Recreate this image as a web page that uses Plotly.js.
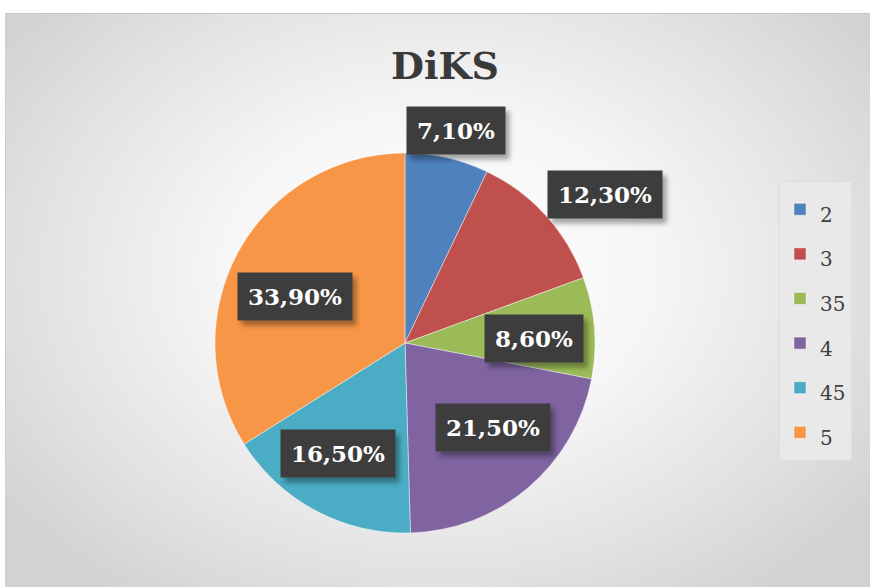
<!DOCTYPE html>
<html>
<head>
<meta charset="utf-8">
<script src="https://cdn.plot.ly/plotly-3.0.1.min.js"></script>
<style>
html,body{margin:0;padding:0;background:#fff;}
#wrap{position:relative;width:876px;height:587px;}
#bg{position:absolute;left:5px;top:13px;width:865px;height:574px;
 background:radial-gradient(ellipse 62% 70% at 50% 45%, #ffffff 0%, #f6f6f6 40%, #e2e2e2 75%, #d2d2d2 100%);
 border-top:1px solid #c8c8c8;border-left:1px solid #d0d0d0;box-sizing:border-box;}
#chart{position:absolute;left:0;top:0;width:876px;height:587px;}
</style>
</head>
<body>
<div id="wrap"><div id="bg"></div><div id="chart"></div></div>
<script>
// ---- data ----
var categories = ["2", "3", "35", "4", "45", "5"];
var values = [7.10, 12.30, 8.60, 21.50, 16.50, 33.90];
var valueLabels = ["7,10%", "12,30%", "8,60%", "21,50%", "16,50%", "33,90%"];
var colors = ["#4F81BD", "#C0504D", "#9BBB59", "#8064A2", "#4BACC6", "#F79646"];
var chartTitle = "DiKS";

// ---- layout geometry ----
var W = 876, H = 587;
var cx = 405, cy = 343, R = 190;
// label placement (radius factor, angle tweak in degrees) mimicking Excel "best fit"
var labelRadius = [1.15, 1.31, 0.68, 0.64, 0.68, 0.63];
var labelAngleShift = [0.7, 5.6, 2.5, -5.8, 3.1, -6.1];

var total = values.reduce(function(a,b){return a+b;},0);
var annotations = [];
var cum = 0;
for (var i = 0; i < values.length; i++) {
  var mid = (cum + values[i]/2) / total * 360 + labelAngleShift[i];
  cum += values[i];
  var a = mid * Math.PI / 180;
  var px = cx + labelRadius[i] * R * Math.sin(a);
  var py = cy - labelRadius[i] * R * Math.cos(a);
  annotations.push({
    x: px / W, y: 1 - py / H, xref: 'paper', yref: 'paper', showarrow: false,
    xanchor: 'center', yanchor: 'middle',
    text: valueLabels[i],
    font: {family: 'DejaVu Serif', size: 23, weight: 'bold', color: '#ffffff'},
    bgcolor: '#3d3d3d', borderpad: 10
  });
}

var legendLabels = categories.map(function(c){ return '<span style="font-size:20px">' + c + '</span>'; });

var data = [{
  type: 'pie',
  labels: legendLabels,
  values: values,
  sort: false,
  direction: 'clockwise',
  rotation: 0,
  textinfo: 'none',
  hoverinfo: 'label+percent',
  marker: {colors: colors, line: {color: 'rgba(255,255,255,0.55)', width: 0.8}},
  domain: {x: [(cx - R)/W, (cx + R)/W], y: [1 - (cy + R)/H, 1 - (cy - R)/H]},
  automargin: false
}];

var layout = {
  width: W, height: H,
  margin: {l: 0, r: 0, t: 0, b: 0},
  paper_bgcolor: 'rgba(0,0,0,0)',
  plot_bgcolor: 'rgba(0,0,0,0)',
  title: {
    text: '<b>' + chartTitle + '</b>',
    font: {family: 'DejaVu Serif', size: 38, color: '#3a3a3a'},
    x: 445/W, xanchor: 'center', y: 1 - 66/H, yanchor: 'middle'
  },
  showlegend: true,
  legend: {
    x: 779/W, xanchor: 'left', y: 1 - 181/H, yanchor: 'top',
    bgcolor: '#e9e9e9', bordercolor: '#dddddd', borderwidth: 1,
    font: {family: 'DejaVu Serif', size: 32, color: '#404040'},
    itemwidth: 30, traceorder: 'normal'
  },
  annotations: annotations
};

Plotly.newPlot('chart', data, layout, {displayModeBar: false, staticPlot: true}).then(function(gd){
  var NS = 'http://www.w3.org/2000/svg';
  var svg = gd.querySelector('svg.main-svg');
  var defs = svg.querySelector('defs') || svg.insertBefore(document.createElementNS(NS, 'defs'), svg.firstChild);
  var f = document.createElementNS(NS, 'filter');
  f.setAttribute('id', 'lblshadow');
  f.setAttribute('x', '-20%'); f.setAttribute('y', '-30%');
  f.setAttribute('width', '150%'); f.setAttribute('height', '170%');
  var ds = document.createElementNS(NS, 'feDropShadow');
  ds.setAttribute('dx', '4'); ds.setAttribute('dy', '5');
  ds.setAttribute('stdDeviation', '2.5');
  ds.setAttribute('flood-color', '#000'); ds.setAttribute('flood-opacity', '0.35');
  f.appendChild(ds); defs.appendChild(f);
  gd.querySelectorAll('.annotation rect.bg').forEach(function(r){ r.setAttribute('filter', 'url(#lblshadow)'); });
});
</script>
</body>
</html>
